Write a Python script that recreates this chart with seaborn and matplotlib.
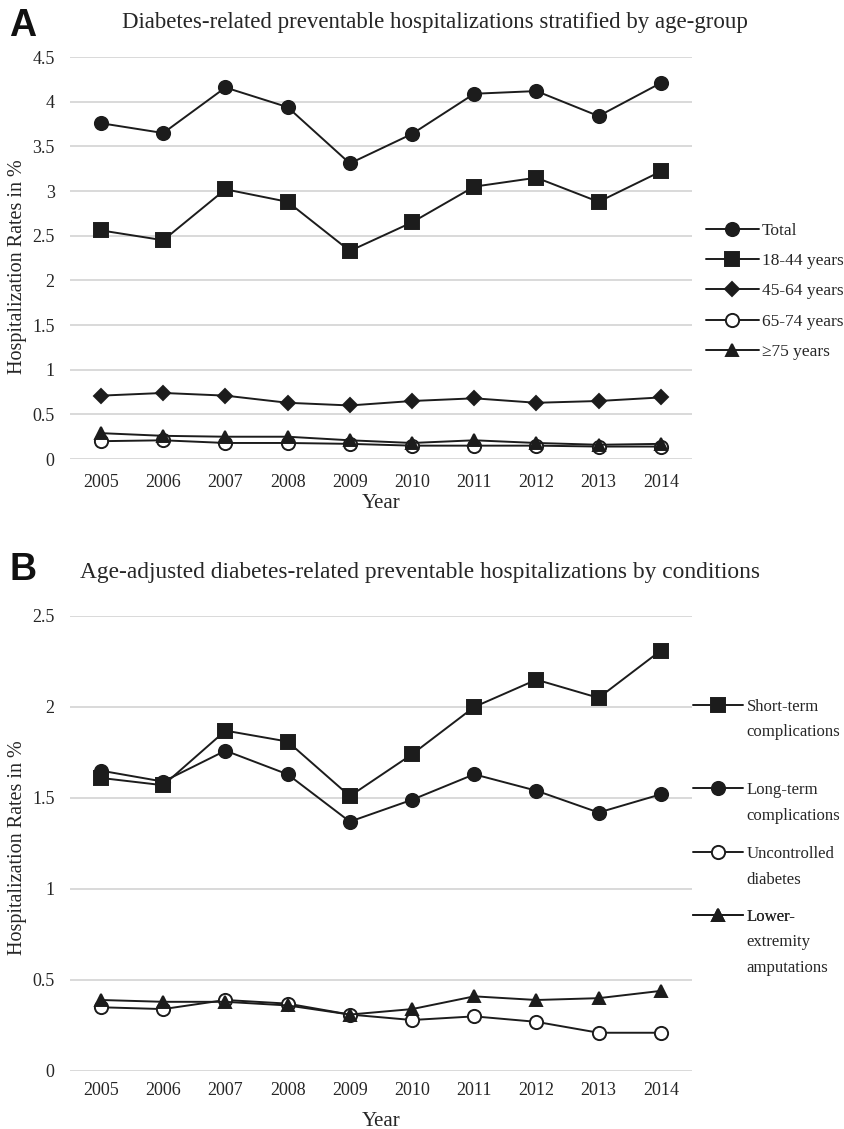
import numpy as np
import pandas as pd
import seaborn as sns
import matplotlib.pyplot as plt

# Data
years = [2005, 2006, 2007, 2008, 2009, 2010, 2011, 2012, 2013, 2014]

# Panel A: by age-group
total = [3.76, 3.65, 4.16, 3.94, 3.31, 3.64, 4.09, 4.12, 3.84, 4.21]
age_18_44 = [2.56, 2.45, 3.02, 2.88, 2.33, 2.65, 3.05, 3.15, 2.88, 3.22]
age_45_64 = [0.71, 0.74, 0.71, 0.63, 0.60, 0.65, 0.68, 0.63, 0.65, 0.69]
age_65_74 = [0.20, 0.21, 0.18, 0.18, 0.17, 0.15, 0.15, 0.15, 0.14, 0.14]
age_75_up = [0.29, 0.26, 0.25, 0.25, 0.21, 0.18, 0.21, 0.18, 0.16, 0.17]

# Panel B: by condition
short_term = [1.61, 1.57, 1.87, 1.81, 1.51, 1.74, 2.00, 2.15, 2.05, 2.31]
long_term = [1.65, 1.59, 1.76, 1.63, 1.37, 1.49, 1.63, 1.54, 1.42, 1.52]
uncontrolled = [0.35, 0.34, 0.39, 0.37, 0.31, 0.28, 0.30, 0.27, 0.21, 0.21]
amputations = [0.39, 0.38, 0.38, 0.36, 0.31, 0.34, 0.41, 0.39, 0.40, 0.44]

sns.set_style('white')
plt.rcParams['font.family'] = ['Liberation Serif', 'DejaVu Serif']

ink = '#1c1c1c'
txt = '#262626'
grid_c = '#d9d9d9'

panel_a = [
    ('Total', total, 'o', ink),
    ('18-44 years', age_18_44, 's', ink),
    ('45-64 years', age_45_64, 'D', ink),
    ('65-74 years', age_65_74, 'o', 'white'),
    ('\u226575 years', age_75_up, '^', ink),
]
panel_b = [
    ('Short-term\ncomplications', short_term, 's', ink),
    ('Long-term\ncomplications', long_term, 'o', ink),
    ('Uncontrolled\ndiabetes', uncontrolled, 'o', 'white'),
    ('Lower-\nextremity\namputations', amputations, '^', ink),
]

fig = plt.figure(figsize=(8.45, 11.29), dpi=100)
ax_a = fig.add_axes([0.0828, 0.5934, 0.736, 0.356])
ax_b = fig.add_axes([0.0828, 0.0514, 0.736, 0.403])


def draw_panel(ax, series, ymax, step, xtick_pad, xlab_pad, ylab_y):
    for name, vals, mk, face in series:
        size = {'D': 7.5, '^': 9}.get(mk, 9.5)
        sns.lineplot(x=years, y=vals, ax=ax, color=ink, linewidth=1.4,
                     marker=mk, markersize=size, markerfacecolor=face,
                     markeredgecolor=ink, markeredgewidth=1.4, label=name)
    ax.set_xlim(2004.5, 2014.5)
    ax.set_ylim(0, ymax)
    ax.set_xticks(years)
    ax.set_xticklabels([str(y) for y in years])
    ticks = np.arange(0, ymax + 0.001, step)
    ax.set_yticks(ticks)
    ax.set_yticklabels([f'{t:g}' for t in ticks])
    ax.yaxis.grid(True, color=grid_c, linewidth=1.4)
    ax.set_axisbelow(True)
    for s in ax.spines.values():
        s.set_visible(False)
    ax.tick_params(axis='both', length=0, labelsize=13, colors=txt)
    ax.tick_params(axis='y', pad=11)
    ax.tick_params(axis='x', pad=xtick_pad)
    ax.set_xlabel('Year', fontsize=15, color=txt, labelpad=xlab_pad)
    ax.set_ylabel('Hospitalization Rates in %', fontsize=14.5, color=txt, va='center')
    ax.yaxis.set_label_coords(-0.0836, ylab_y)


draw_panel(ax_a, panel_a, 4.5, 0.5, 11, 2, 0.48)
draw_panel(ax_b, panel_b, 2.5, 0.5, 8, 9, 0.49)

leg_kw = dict(frameon=False, handlelength=3.0, handletextpad=0.2,
              borderaxespad=0, borderpad=0, bbox_transform=fig.transFigure)
for t in ax_a.legend(loc='center left', bbox_to_anchor=(0.836, 0.742), fontsize=12.5,
                     labelspacing=0.82, **leg_kw).get_texts():
    t.set_color(txt)

# panel B legend: marker sits on the first line of each wrapped label
handles_b, labels_b = ax_b.get_legend_handles_labels()
ax_b.get_legend().remove()
first_line_y = [707, 790, 854, 917]
line_gap = 25.5
fs_b = 12.1
fig_w = fig.get_figwidth() * fig.dpi
fig_h = fig.get_figheight() * fig.dpi
legs_b = []
for h, lab, ypix in zip(handles_b, labels_b, first_line_y):
    lines = lab.split('\n')
    leg = ax_b.legend([h], [lines[0]], loc='center left', fontsize=fs_b,
                      bbox_to_anchor=(0.820, 1 - ypix / fig_h), **leg_kw)
    leg.get_texts()[0].set_color(txt)
    ax_b.add_artist(leg)
    legs_b.append((leg, lines[1:], ypix))

fig.canvas.draw()
renderer = fig.canvas.get_renderer()
for leg, rest, ypix in legs_b:
    x0 = leg.get_texts()[0].get_window_extent(renderer).x0
    for k, line in enumerate(rest, start=1):
        fig.text(x0 / fig_w, 1 - (ypix + k * line_gap) / fig_h,
                 line, ha='left', va='center', fontsize=fs_b, color=txt)

fig.text(0.515, 0.980, 'Diabetes-related preventable hospitalizations stratified by age-group',
         ha='center', va='center', fontsize=16.5, color=txt)
fig.text(0.497, 0.493, 'Age-adjusted diabetes-related preventable hospitalizations by conditions',
         ha='center', va='center', fontsize=16.8, color=txt)
fig.text(0.011, 0.977, 'A', ha='left', va='center', fontsize=27, fontweight='bold',
         family='Liberation Sans', color='#111111')
fig.text(0.011, 0.495, 'B', ha='left', va='center', fontsize=27, fontweight='bold',
         family='Liberation Sans', color='#111111')

fig.savefig('out.png', dpi=100, facecolor='white')
